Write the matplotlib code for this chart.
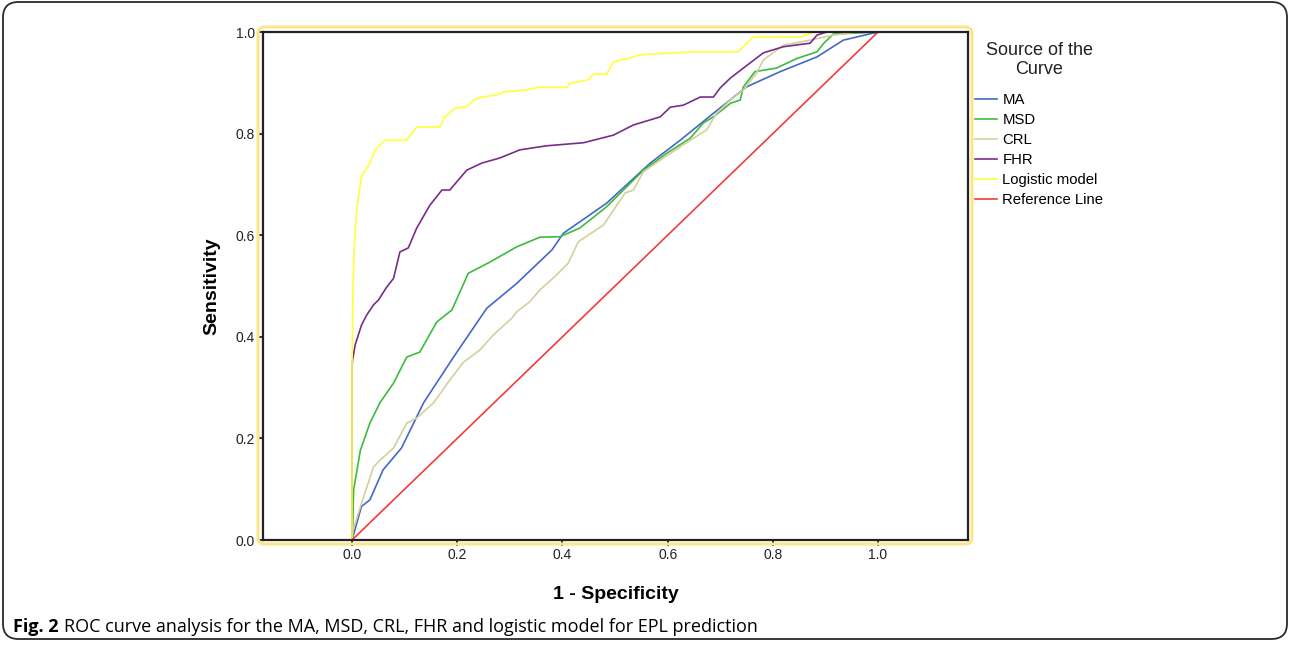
import matplotlib.pyplot as plt
import numpy as np
from matplotlib.patches import FancyBboxPatch

plt.rcParams['font.family'] = ['Liberation Sans', 'DejaVu Sans']

# ROC curves (1 - specificity, sensitivity)
ma_x = [0, 0.009, 0.018, 0.034, 0.059, 0.094, 0.136, 0.193, 0.256, 0.313, 0.38, 0.402,
        0.484, 0.567, 0.624, 0.687, 0.75, 0.814, 0.884, 0.934, 1.0]
ma_y = [0, 0.033, 0.066, 0.079, 0.138, 0.181, 0.27, 0.36, 0.456, 0.505, 0.571, 0.604,
        0.663, 0.742, 0.787, 0.84, 0.892, 0.922, 0.951, 0.984, 1.0]

msd_x = [0, 0.001, 0.003, 0.016, 0.034, 0.053, 0.079, 0.104, 0.129, 0.161, 0.19, 0.221,
         0.262, 0.313, 0.357, 0.395, 0.433, 0.484, 0.516, 0.554, 0.598, 0.643, 0.668,
         0.687, 0.72, 0.738, 0.744, 0.766, 0.807, 0.846, 0.884, 0.896, 0.915, 1.0]
msd_y = [0, 0.006, 0.098, 0.177, 0.23, 0.27, 0.309, 0.36, 0.37, 0.429, 0.453, 0.525,
         0.547, 0.577, 0.596, 0.597, 0.614, 0.656, 0.689, 0.728, 0.761, 0.791, 0.821,
         0.833, 0.86, 0.866, 0.892, 0.922, 0.929, 0.948, 0.961, 0.977, 0.996, 1.0]

crl_x = [0, 0.002, 0.018, 0.041, 0.053, 0.079, 0.104, 0.123, 0.155, 0.186, 0.212, 0.243,
         0.269, 0.304, 0.313, 0.338, 0.357, 0.389, 0.411, 0.43, 0.478, 0.519, 0.535,
         0.554, 0.592, 0.643, 0.674, 0.693, 0.719, 0.744, 0.769, 0.782, 0.82, 0.871,
         0.915, 0.96, 1.0]
crl_y = [0, 0.02, 0.072, 0.144, 0.157, 0.181, 0.23, 0.24, 0.27, 0.315, 0.35, 0.374,
         0.404, 0.437, 0.449, 0.469, 0.492, 0.522, 0.545, 0.587, 0.62, 0.683, 0.689,
         0.725, 0.752, 0.787, 0.807, 0.84, 0.866, 0.886, 0.919, 0.945, 0.974, 0.984,
         0.994, 1.0, 1.0]

fhr_x = [0, 0, 0.001, 0.006, 0.018, 0.028, 0.041, 0.05, 0.066, 0.079, 0.091, 0.107,
         0.123, 0.148, 0.171, 0.186, 0.218, 0.247, 0.281, 0.319, 0.37, 0.44, 0.497,
         0.535, 0.586, 0.605, 0.63, 0.662, 0.687, 0.70, 0.719, 0.744, 0.782, 0.82,
         0.871, 0.884, 0.903, 1.0]
fhr_y = [0, 0.34, 0.354, 0.384, 0.423, 0.443, 0.463, 0.472, 0.498, 0.515, 0.567, 0.575,
         0.614, 0.659, 0.689, 0.689, 0.728, 0.742, 0.752, 0.768, 0.776, 0.782, 0.797,
         0.817, 0.833, 0.852, 0.856, 0.872, 0.872, 0.89, 0.909, 0.929, 0.959, 0.971,
         0.978, 0.994, 1.0, 1.0]

log_x = [0, 0, 0.002, 0.004, 0.009, 0.018, 0.034, 0.044, 0.063, 0.104, 0.123, 0.167,
         0.177, 0.196, 0.218, 0.231, 0.247, 0.275, 0.288, 0.332, 0.351, 0.408, 0.414,
         0.449, 0.459, 0.484, 0.497, 0.516, 0.548, 0.643, 0.734, 0.744, 0.763, 0.852,
         0.88, 1.0]
log_y = [0, 0.34, 0.5, 0.57, 0.65, 0.715, 0.742, 0.768, 0.787, 0.787, 0.813, 0.813,
         0.833, 0.85, 0.853, 0.866, 0.872, 0.876, 0.882, 0.886, 0.891, 0.891, 0.899,
         0.906, 0.917, 0.917, 0.941, 0.946, 0.955, 0.961, 0.961, 0.971, 0.99, 0.99,
         1.0, 1.0]

ref_x = [0, 1]
ref_y = [0, 1]

curves = [
    (ma_x, ma_y, 'MA', '#4468c8'),
    (msd_x, msd_y, 'MSD', '#3dbb3d'),
    (crl_x, crl_y, 'CRL', '#d4cf9e'),
    (fhr_x, fhr_y, 'FHR', '#7a2c8a'),
    (log_x, log_y, 'Logistic model', '#ffff3a'),
    (ref_x, ref_y, 'Reference Line', '#f23c3c'),
]

W, H = 1290, 647
fig = plt.figure(figsize=(12.9, 6.47), dpi=100)

# outer rounded border of the figure panel
fig.patches.append(FancyBboxPatch((3 / W, 8 / H), 1284 / W, 637 / H,
                                  boxstyle='round,pad=0,rounding_size=0.012',
                                  transform=fig.transFigure, fill=False,
                                  edgecolor='#2a2a2a', linewidth=1.3,
                                  mutation_aspect=W / H))

# yellow frame around plot area
fig.patches.append(FancyBboxPatch((258 / W, (H - 544) / H), 714 / W, 517 / H,
                                  boxstyle='round,pad=0,rounding_size=0.005',
                                  transform=fig.transFigure, fill=False,
                                  edgecolor='#fde58a', linewidth=2.2,
                                  mutation_aspect=W / H, zorder=0))

ax = fig.add_axes([263 / W, (H - 540) / H, 705 / W, 508 / H])
for x, y, lab, col in curves:
    ax.plot(x, y, color=col, lw=1.2, label=lab)

ax.set_xlim(-0.1692, 1.171)
ax.set_ylim(0, 1)
ax.set_xticks(np.arange(0, 1.01, 0.2))
ax.set_yticks(np.arange(0, 1.01, 0.2))
ax.xaxis.set_major_formatter(plt.FormatStrFormatter('%.1f'))
ax.yaxis.set_major_formatter(plt.FormatStrFormatter('%.1f'))
ax.tick_params(direction='out', length=4, width=1.3, color='#222222',
               labelsize=10, labelcolor='#222222', pad=2)
for s in ax.spines.values():
    s.set_color('#222222')
    s.set_linewidth(1.6)

ax.set_xlabel('1 - Specificity', fontsize=14, fontweight='bold', labelpad=17)
ax.set_ylabel('Sensitivity', fontsize=14, fontweight='bold', labelpad=11)

# legend title drawn separately, centred over the entries
fig.text(1039 / W, 1 - 60 / H, 'Source of the\nCurve', fontsize=13,
         ha='center', va='center', multialignment='center', linespacing=1.1,
         color='#222222')
leg = ax.legend(loc='upper left', bbox_to_anchor=(975 / W, 1 - 93 / H),
                bbox_transform=fig.transFigure, frameon=False, fontsize=10.7,
                handlelength=1.5, handletextpad=0.35, labelspacing=0.40,
                borderpad=0, borderaxespad=0)

fig.canvas.draw()
t1 = fig.text(13 / W, 1 - 627 / H, 'Fig. 2', fontsize=13, fontweight='bold',
              family='Open Sans', va='center', ha='left')
bb = t1.get_window_extent(fig.canvas.get_renderer())
fig.text((bb.x1 + 5) / W, 1 - 627 / H,
         'ROC curve analysis for the MA, MSD, CRL, FHR and logistic model for EPL prediction',
         fontsize=13, family='Open Sans', va='center', ha='left')

fig.savefig('out.png', dpi=100)
